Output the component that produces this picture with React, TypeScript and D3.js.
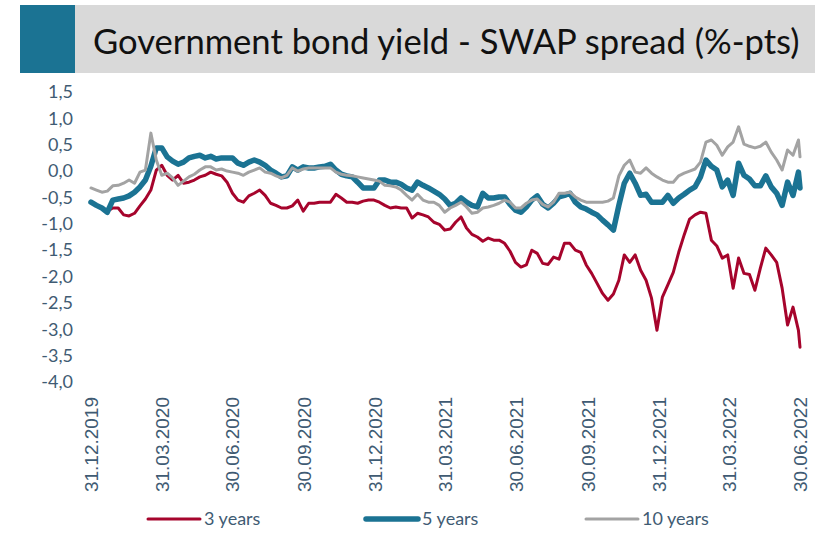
import React from "react";
import * as d3 from "d3";

const TITLE = "Government bond yield - SWAP spread (%-pts)";
const START_DATE = "2019-12-31";
const END_DATE = "2022-06-30";
const TICK_DATES = ["2019-12-31", "2020-03-31", "2020-06-30", "2020-09-30", "2020-12-31", "2021-03-31", "2021-06-30", "2021-09-30", "2021-12-31", "2022-03-31", "2022-06-30"];
const Y_TICKS = [1.5, 1.0, 0.5, 0.0, -0.5, -1.0, -1.5, -2.0, -2.5, -3.0, -3.5, -4.0];
const SERIES_NAMES = ["3 years", "5 years", "10 years"];

// weekly observations starting 31.12.2019, last value on 30.06.2022
const Y3 = [
  -0.59, -0.65, -0.70, -0.76, -0.70, -0.70, -0.83, -0.85, -0.80, -0.66,
  -0.53, -0.36, 0.02, 0.11, -0.08, -0.17, -0.08, -0.23, -0.21, -0.17,
  -0.11, -0.08, -0.02, -0.06, -0.09, -0.21, -0.42, -0.55, -0.59, -0.47,
  -0.42, -0.36, -0.46, -0.61, -0.65, -0.70, -0.70, -0.66, -0.55, -0.76,
  -0.61, -0.61, -0.59, -0.59, -0.59, -0.44, -0.51, -0.59, -0.59, -0.61,
  -0.57, -0.55, -0.55, -0.59, -0.65, -0.70, -0.68, -0.70, -0.70, -0.89,
  -0.80, -0.83, -0.87, -0.97, -1.01, -1.12, -1.10, -0.97, -0.87, -1.08,
  -1.20, -1.25, -1.33, -1.27, -1.31, -1.31, -1.37, -1.52, -1.73, -1.82,
  -1.78, -1.50, -1.56, -1.75, -1.77, -1.63, -1.67, -1.37, -1.37, -1.50,
  -1.54, -1.78, -1.94, -2.13, -2.32, -2.45, -2.33, -2.07, -1.59, -1.73,
  -1.59, -1.88, -2.07, -2.41, -3.02, -2.39, -2.16, -1.92, -1.54, -1.21,
  -0.91, -0.83, -0.78, -0.80, -1.31, -1.42, -1.65, -1.59, -2.22, -1.65,
  -1.94, -1.96, -2.26, -1.84, -1.46, -1.59, -1.73, -2.22, -2.92, -2.58,
  -3.02, -3.34,
];
const Y5 = [
  -0.59, -0.65, -0.70, -0.78, -0.55, -0.53, -0.51, -0.47, -0.40, -0.30,
  -0.17, 0.09, 0.44, 0.44, 0.27, 0.19, 0.13, 0.17, 0.25, 0.28,
  0.30, 0.25, 0.28, 0.23, 0.25, 0.25, 0.25, 0.15, 0.11, 0.17,
  0.21, 0.17, 0.11, 0.02, -0.04, -0.11, -0.09, 0.08, 0.02, 0.08,
  0.06, 0.06, 0.08, 0.09, 0.13, 0.02, -0.06, -0.09, -0.11, -0.21,
  -0.32, -0.32, -0.32, -0.17, -0.17, -0.21, -0.21, -0.25, -0.32, -0.36,
  -0.21, -0.27, -0.32, -0.38, -0.44, -0.53, -0.65, -0.61, -0.51, -0.59,
  -0.65, -0.68, -0.42, -0.51, -0.51, -0.49, -0.49, -0.63, -0.74, -0.78,
  -0.68, -0.55, -0.47, -0.63, -0.70, -0.61, -0.49, -0.46, -0.42, -0.59,
  -0.68, -0.72, -0.78, -0.83, -0.93, -1.02, -1.12, -0.65, -0.23, -0.04,
  -0.23, -0.46, -0.44, -0.59, -0.59, -0.59, -0.46, -0.61, -0.51, -0.44,
  -0.36, -0.30, -0.11, 0.21, 0.09, 0.02, -0.30, -0.17, -0.46, 0.15,
  -0.08, -0.15, -0.28, -0.28, -0.09, -0.30, -0.42, -0.65, -0.21, -0.46,
  -0.02, -0.32,
];
const Y10 = [
  -0.32, -0.36, -0.40, -0.38, -0.28, -0.27, -0.23, -0.17, -0.23, -0.02,
  0.02, 0.72, 0.21, -0.08, -0.04, -0.13, -0.27, -0.19, -0.11, -0.06,
  0.02, 0.08, 0.08, 0.02, 0.04, 0.00, -0.02, -0.04, -0.08, -0.02,
  0.02, 0.06, -0.02, -0.04, -0.09, -0.13, -0.08, 0.06, 0.00, 0.04,
  0.06, 0.06, 0.06, 0.06, 0.06, -0.02, -0.06, -0.08, -0.09, -0.11,
  -0.13, -0.15, -0.17, -0.19, -0.27, -0.28, -0.30, -0.36, -0.46, -0.55,
  -0.44, -0.55, -0.59, -0.59, -0.65, -0.78, -0.70, -0.65, -0.59, -0.68,
  -0.80, -0.78, -0.70, -0.68, -0.65, -0.61, -0.55, -0.59, -0.70, -0.70,
  -0.61, -0.55, -0.53, -0.63, -0.68, -0.59, -0.42, -0.42, -0.40, -0.49,
  -0.55, -0.59, -0.59, -0.59, -0.59, -0.57, -0.51, -0.09, 0.11, 0.21,
  -0.02, -0.04, 0.06, -0.04, -0.11, -0.17, -0.21, -0.21, -0.09, -0.04,
  0.00, 0.04, 0.17, 0.55, 0.59, 0.49, 0.30, 0.46, 0.55, 0.84,
  0.51, 0.47, 0.44, 0.47, 0.55, 0.36, 0.21, 0.02, 0.40, 0.30,
  0.59, 0.27,
];

const COLORS = ["#a6042c", "#1b7393", "#a3a3a3"];
const WIDTHS = [3, 5.5, 3];
const AXIS_COLOR = "#3f5b73";

export default function App() {
  const W = 815, H = 541;
  const parse = d3.timeParse("%Y-%m-%d");
  const fmt = d3.timeFormat("%d.%m.%Y");
  const start = parse(START_DATE)!;
  const end = parse(END_DATE)!;

  const makeDates = (n: number) => {
    const arr: Date[] = [];
    for (let i = 0; i < n - 1; i++) arr.push(d3.timeDay.offset(start, i * 7));
    arr.push(end);
    return arr;
  };

  const x = d3.scaleTime().domain([start, end]).range([91, 800]);
  const y = d3.scaleLinear().domain([-4, 1.5]).range([382, 92]);

  const seriesList = [Y3, Y5, Y10].map((vals) => {
    const dates = makeDates(vals.length);
    return vals.map((v, i) => ({ d: dates[i], v }));
  });

  const line = d3
    .line<{ d: Date; v: number }>()
    .x((p) => x(p.d))
    .y((p) => y(p.v));

  const legendX = [148, 366, 586];
  const legendY = 519;
  const labelFont = "Lato, 'Open Sans', sans-serif";
  const fmtY = (t: number) => t.toFixed(1).replace(".", ",");

  return (
    <svg
      width={W}
      height={H}
      style={{ position: "absolute", left: 0, top: 0, background: "#ffffff" }}
    >
      <rect x={0} y={0} width={W} height={H} fill="#ffffff" />
      {/* title band */}
      <rect x={20} y={5} width={795} height={68} fill="#d9d9d9" />
      <rect x={20} y={5} width={55} height={68} fill="#1b7393" />
      <text
        x={93}
        y={54}
        fontFamily={labelFont}
        fontSize={34.6}
        fill="#111111"
      >
        {TITLE}
      </text>

      {/* y axis labels */}
      {Y_TICKS.map((t) => (
        <text
          key={t}
          x={73}
          y={y(t)}
          dy="0.35em"
          textAnchor="end"
          fontFamily={labelFont}
          fontSize={18}
          fill={AXIS_COLOR}
        >
          {fmtY(t)}
        </text>
      ))}

      {/* x axis labels */}
      {TICK_DATES.map((s) => {
        const d = parse(s)!;
        const xx = x(d);
        return (
          <text
            key={s}
            transform={`translate(${xx},397) rotate(-90)`}
            dy="0.36em"
            textAnchor="end"
            fontFamily="'Liberation Sans', Arial, sans-serif"
            fontSize={19}
            fill={AXIS_COLOR}
          >
            {fmt(d)}
          </text>
        );
      })}

      {/* series */}
      {seriesList.map((data, i) => (
        <path
          key={i}
          d={line(data) || ""}
          fill="none"
          stroke={COLORS[i]}
          strokeWidth={WIDTHS[i]}
          strokeLinejoin="round"
          strokeLinecap="round"
        />
      ))}

      {/* legend */}
      {SERIES_NAMES.map((name, i) => (
        <g key={name}>
          <line
            x1={legendX[i]}
            x2={legendX[i] + 52}
            y1={legendY}
            y2={legendY}
            stroke={COLORS[i]}
            strokeWidth={WIDTHS[i]}
            strokeLinecap="round"
          />
          <text
            x={legendX[i] + 56}
            y={legendY}
            dy="0.35em"
            fontFamily={labelFont}
            fontSize={18}
            fill={AXIS_COLOR}
          >
            {name}
          </text>
        </g>
      ))}
    </svg>
  );
}
